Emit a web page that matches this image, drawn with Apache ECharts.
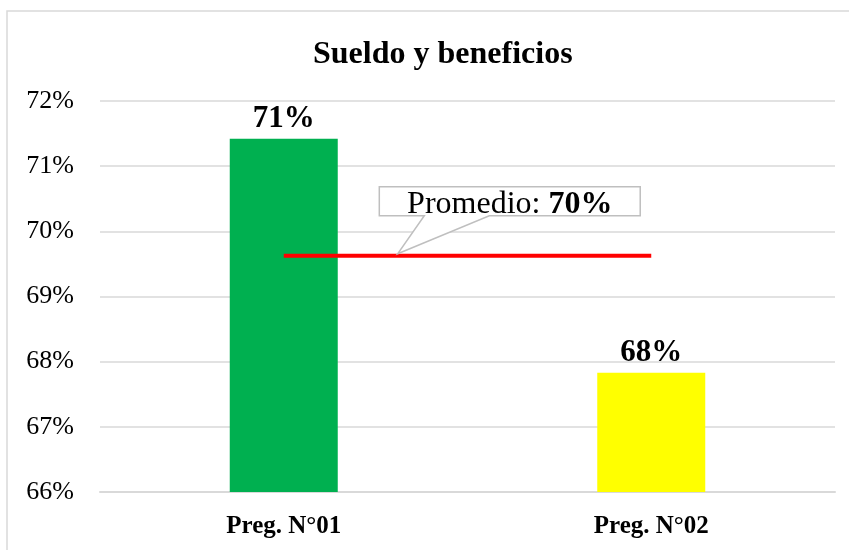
<!DOCTYPE html>
<html>
<head>
<meta charset="utf-8">
<script src="https://cdn.jsdelivr.net/npm/echarts@6/dist/echarts.min.js"></script>
<style>
  html, body { margin: 0; padding: 0; background: #fff; }
  #chart { width: 849px; height: 550px; }
</style>
</head>
<body>
<div id="chart"></div>
<script>
var categories = ["Preg. N°01", "Preg. N°02"];
var values = [71.42, 67.83];
var barColors = ["#00B050", "#FFFF00"];
var average = (values[0] + values[1]) / 2;
var yTicks = { min: 66, max: 72, interval: 1 };

var chartDom = document.getElementById("chart");
var myChart = echarts.init(chartDom);
var font = "'Liberation Serif', 'Times New Roman', serif";
var option;

option = {
  animation: false,
  title: {
    text: "Sueldo y beneficios",
    left: 308,
    top: 34,
    textStyle: { fontFamily: font, fontSize: 32, fontWeight: "bold", color: "#000" },
  },
  grid: { left: 100, right: 14, top: 101, bottom: 58 },
  xAxis: {
    type: "category",
    data: categories,
    axisLine: { lineStyle: { color: "#d9d9d9", width: 2 } },
    axisTick: { show: false },
    axisLabel: {
      fontFamily: font,
      fontSize: 25,
      fontWeight: "bold",
      color: "#000",
      margin: 22,
    },
  },
  yAxis: {
    type: "value",
    min: yTicks.min,
    max: yTicks.max,
    interval: yTicks.interval,
    axisLine: { show: false },
    axisTick: { show: false },
    splitLine: { lineStyle: { color: "#d9d9d9", width: 1.5 } },
    axisLabel: {
      fontFamily: font,
      fontSize: 26,
      color: "#000",
      margin: 26,
      formatter: function (v) {
        return v + "%";
      },
    },
  },
  series: [
    {
      type: "bar",
      barWidth: 108,
      data: values.map(function (v, i) {
        return { value: v, itemStyle: { color: barColors[i] } };
      }),
      label: {
        show: true,
        position: "top",
        distance: 4,
        fontFamily: font,
        fontSize: 31,
        fontWeight: "bold",
        color: "#000",
        formatter: function (p) {
          return Math.round(p.value) + "%";
        },
      },
    },
    {
      type: "line",
      data: categories.map(function () {
        return average;
      }),
      showSymbol: false,
      lineStyle: { color: "#FF0000", width: 4 },
      z: 5,
    },
  ],
};

option && myChart.setOption(option);

// callout for the average line
var x0 = myChart.convertToPixel({ xAxisIndex: 0 }, 0);
var x1 = myChart.convertToPixel({ xAxisIndex: 0 }, 1);
var yAvg = myChart.convertToPixel({ yAxisIndex: 0 }, average);
var tipX = x0 + (x1 - x0) * 0.31;
var boxL = x0 + (x1 - x0) * 0.26;
var boxR = x0 + (x1 - x0) * 0.97;
var boxT = yAvg - 69;
var boxB = yAvg - 40;
myChart.setOption({
  graphic: [
    {
      type: "rect",
      shape: { x: 7, y: 11, width: 900, height: 600 },
      style: { fill: "none", stroke: "#d9d9d9", lineWidth: 1.5 },
      silent: true,
    },
    {
      type: "polygon",
      shape: {
        points: [
          [boxL, boxT],
          [boxR, boxT],
          [boxR, boxB],
          [boxL + 110, boxB],
          [tipX, yAvg - 2],
          [boxL + 45, boxB],
          [boxL, boxB],
        ],
      },
      style: { fill: "#fff", stroke: "#bfbfbf", lineWidth: 1.5 },
      z: 10,
    },
    {
      type: "text",
      x: (boxL + boxR) / 2,
      y: (boxT + boxB) / 2 + 3,
      z: 11,
      style: {
        text: "Promedio: {b|" + Math.round(average) + "%}",
        align: "center",
        verticalAlign: "middle",
        fontFamily: font,
        fontSize: 32,
        fill: "#000",
        rich: {
          b: { fontFamily: font, fontSize: 32, fontWeight: "bold", fill: "#000" },
        },
      },
    },
  ],
});
</script>
</body>
</html>
